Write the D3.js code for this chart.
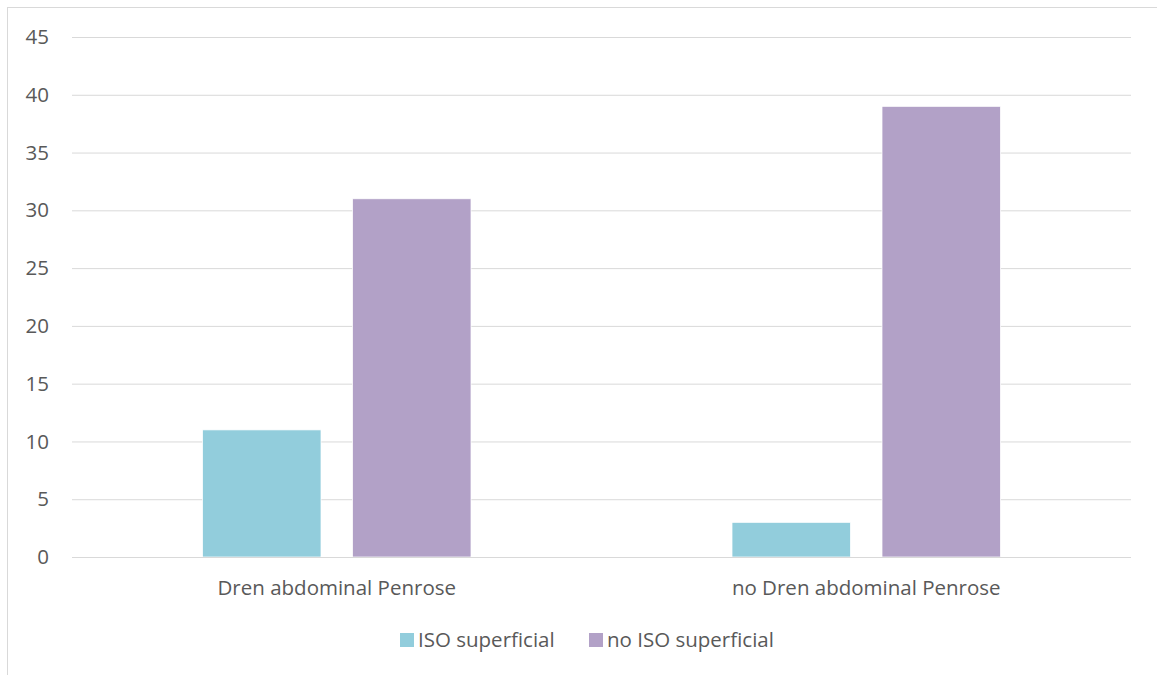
<!DOCTYPE html>
<html>
<head>
<meta charset="utf-8">
<script src="https://cdn.jsdelivr.net/npm/d3@7"></script>
<style>
  html, body { margin: 0; padding: 0; background: #ffffff; }
  svg { display: block; font-family: "Open Sans", sans-serif; }
</style>
</head>
<body>
<svg id="chart" width="1157" height="675"></svg>
<script>
// Categories, series and values
const categories = ["Dren abdominal Penrose", "no Dren abdominal Penrose"];
const seriesNames = ["ISO superficial", "no ISO superficial"];
const isoSuperficial = [11, 3];
const noIsoSuperficial = [31, 39];
const yTicks = [0, 5, 10, 15, 20, 25, 30, 35, 40, 45];
const seriesColors = ["#92CDDC", "#B2A1C7"];

const seriesValues = [isoSuperficial, noIsoSuperficial];
const rows = categories.map((c, i) => ({
  category: c,
  values: seriesNames.map((s, j) => ({ series: s, value: seriesValues[j][i], color: seriesColors[j] }))
}));

const svg = d3.select("#chart");
const textColor = "#595959";
const gridColor = "#D9D9D9";
const fontSize = "20.5px";

// Chart frame (runs past the right and bottom edges)
svg.append("rect")
  .attr("x", 7.5).attr("y", 7.5)
  .attr("width", 1200).attr("height", 720)
  .attr("fill", "none").attr("stroke", gridColor).attr("stroke-width", 1);

const plot = { left: 72, right: 1131, top: 37, bottom: 557 };

const x0 = d3.scaleBand().domain(categories).range([plot.left, plot.right]).paddingInner(0).paddingOuter(0);
const x1 = d3.scaleBand().domain(seriesNames).range([0, x0.bandwidth()]).paddingInner(0.21).paddingOuter(0.87);
const y = d3.scaleLinear().domain([0, 45]).range([plot.bottom, plot.top]);

// Horizontal gridlines and value labels
const yAxis = d3.axisLeft(y).tickValues(yTicks).tickSize(-(plot.right - plot.left)).tickPadding(23);
const gy = svg.append("g").attr("transform", `translate(${plot.left},0)`).call(yAxis);
gy.select(".domain").remove();
gy.selectAll(".tick line").attr("stroke", gridColor).attr("stroke-width", 1);
gy.selectAll(".tick text")
  .attr("fill", textColor)
  .style("font-size", fontSize)
  .style("font-family", "'Open Sans', sans-serif");

// Bars
const groups = svg.append("g").selectAll("g")
  .data(rows).join("g")
  .attr("transform", d => `translate(${x0(d.category)},0)`);

groups.selectAll("rect")
  .data(d => d.values).join("rect")
  .attr("x", d => x1(d.series))
  .attr("width", x1.bandwidth())
  .attr("y", d => y(d.value))
  .attr("height", d => y(0) - y(d.value))
  .attr("fill", d => d.color)
  .attr("stroke", "#ffffff")
  .attr("stroke-width", 0.75);

// Baseline
svg.append("line")
  .attr("x1", plot.left).attr("x2", plot.right)
  .attr("y1", y(0) + 0.5).attr("y2", y(0) + 0.5)
  .attr("stroke", gridColor).attr("stroke-width", 1);

// Category labels
const xAxis = d3.axisBottom(x0).tickSize(0).tickPadding(0);
const gx = svg.append("g").attr("transform", `translate(0,${plot.bottom})`).call(xAxis);
gx.select(".domain").remove();
gx.selectAll(".tick text")
  .attr("y", 38).attr("dy", null)
  .attr("fill", textColor)
  .style("font-size", fontSize)
  .style("font-family", "'Open Sans', sans-serif");

// Legend
const legend = svg.append("g").attr("transform", "translate(0,640)");
const legendX = [400, 589];
seriesNames.forEach((s, i) => {
  const g = legend.append("g").attr("transform", `translate(${legendX[i]},0)`);
  g.append("rect").attr("x", 0).attr("y", -7).attr("width", 14).attr("height", 14).attr("fill", seriesColors[i]);
  g.append("text").attr("x", 18).attr("y", 0).attr("dy", "0.35em")
    .attr("fill", textColor)
    .style("font-size", fontSize)
    .text(s);
});
</script>
</body>
</html>
